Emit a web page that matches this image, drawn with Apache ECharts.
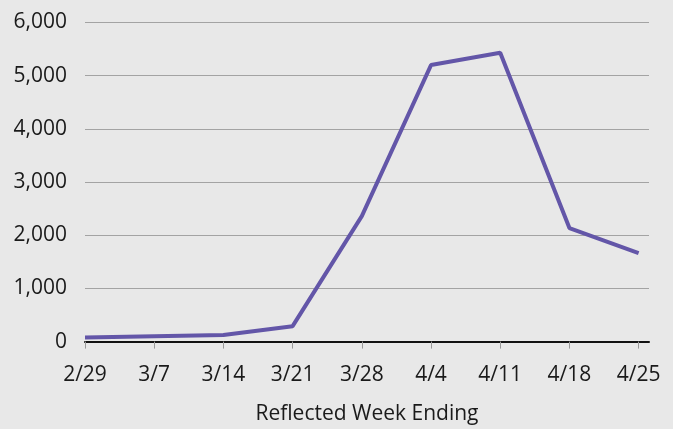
<!DOCTYPE html>
<html>
<head>
<meta charset="utf-8">
<script src="https://cdn.jsdelivr.net/npm/echarts@6/dist/echarts.min.js"></script>
<style>
  html, body { margin: 0; padding: 0; background: #e8e8e8; }
  #chart { width: 673px; height: 429px; }
</style>
</head>
<body>
<div id="chart"></div>
<script>
// week ending dates and counts
var weeks = ['2/29', '3/7', '3/14', '3/21', '3/28', '4/4', '4/11', '4/18', '4/25'];
var counts = [75, 100, 125, 290, 2360, 5200, 5430, 2135, 1665];
var yTicks = [0, 1000, 2000, 3000, 4000, 5000, 6000];

var chart = echarts.init(document.getElementById('chart'));
var idx = weeks.map(function (w, i) { return i; });

chart.setOption({
  backgroundColor: '#e8e8e8',
  textStyle: { fontFamily: 'Open Sans' },
  grid: { left: 85, right: 24, top: 22.5, bottom: 87.4, outerBoundsMode: 'none', containLabel: false },
  xAxis: {
    type: 'value',
    min: 0,
    max: 8.15,
    interval: 1,
    name: 'Reflected Week Ending',
    nameLocation: 'middle',
    nameGap: 62,
    nameTextStyle: { fontSize: 21, color: '#1a1a1a' },
    axisLine: { lineStyle: { color: '#111', width: 2 } },
    axisTick: { show: true, length: 7, customValues: idx, lineStyle: { color: '#999', width: 1 } },
    axisLabel: {
      customValues: idx,
      margin: 23,
      fontSize: 21,
      color: '#1a1a1a',
      formatter: function (v) { return weeks[v] || ''; }
    },
    splitLine: { show: false }
  },
  yAxis: {
    type: 'value',
    min: yTicks[0],
    max: yTicks[yTicks.length - 1],
    interval: 1000,
    axisLine: { show: false },
    axisTick: { show: false },
    axisLabel: {
      margin: 18,
      fontSize: 21,
      color: '#1a1a1a',
      formatter: function (v) { return v.toLocaleString('en-US'); }
    },
    splitLine: { lineStyle: { color: '#a3a3a3', width: 1 } }
  },
  series: [{
    type: 'line',
    data: counts.map(function (c, i) { return [i, c]; }),
    symbol: 'none',
    lineStyle: { color: '#6356a8', width: 4 },
    z: 3
  }]
});
</script>
</body>
</html>
